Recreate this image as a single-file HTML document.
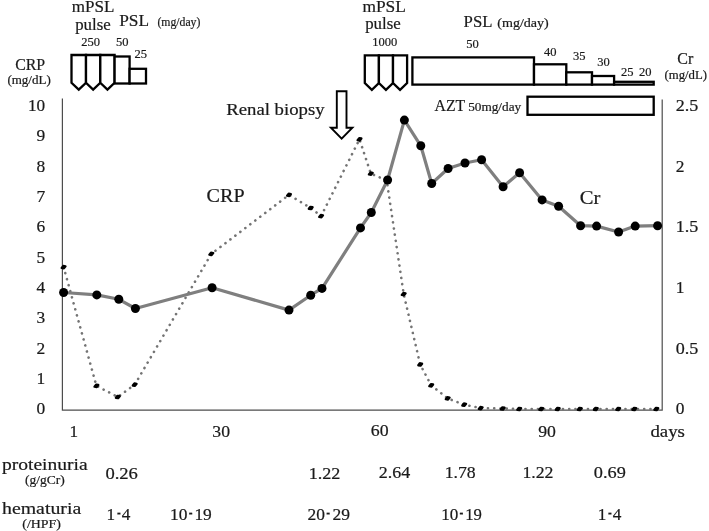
<!DOCTYPE html>
<html><head><meta charset="utf-8"><title>Clinical course</title>
<style>
html,body{margin:0;padding:0;background:#fff;}
body{width:709px;height:531px;overflow:hidden;}
svg{display:block;will-change:transform;transform:translateZ(0);}
text{font-family:"Liberation Serif","DejaVu Serif",serif;fill:#1a1a1a;stroke:#1a1a1a;stroke-width:0.2px;}
.c{font-size:16px;}
.s{font-size:12.5px;}
.u{font-size:11px;}
.ax{font-size:16px;fill:#222;}
</style></head><body>
<svg width="709" height="531" viewBox="0 0 709 531">
<rect width="709" height="531" fill="#fff"/>

<g stroke="#4d4d4d" stroke-width="1.2" fill="none"><path d="M62.4 98.5V410.1H662.2V99.5"/></g>
<g stroke="#000" stroke-width="2.3" fill="#fff" stroke-linejoin="miter">
<path d="M71.5 55.0H86V82.8L78.75 89.7L71.5 82.8Z"/>
<path d="M86 55.0H100.3V82.8L93.15 89.7L86 82.8Z"/>
<path d="M100.3 55.0H114.6V82.8L107.44999999999999 89.7L100.3 82.8Z"/>
<rect x="114.6" y="56.5" width="15" height="27"/>
<rect x="129.6" y="68.8" width="16.4" height="14.7"/>
<path d="M364.8 55.3H378.9V83L371.85 89.8L364.8 83Z"/>
<path d="M378.9 55.3H393V83L385.95 89.8L378.9 83Z"/>
<path d="M393 55.3H407.1V83L400.05 89.8L393 83Z"/>
<rect x="412.4" y="57.4" width="121.6" height="27.2"/>
<rect x="534" y="64.3" width="32.3" height="20.3"/>
<rect x="566.3" y="72.3" width="25.7" height="12.3"/>
<rect x="592" y="76.0" width="22.1" height="8.6"/>
<rect x="614.1" y="81.8" width="39.6" height="2.8"/>
<rect x="527.5" y="96.7" width="126.2" height="18.1"/>
</g>
<path d="M336.8 91.2H346.5V127.7H352.4L341.65 138.7L330.9 127.7H336.8Z" fill="#fff" stroke="#000" stroke-width="1.9"/>
<polyline points="63.6,267.1 96.4,385.8 117.8,397.0 134.7,384.7 211.3,253.9 289.0,194.9 310.7,208.0 321.1,216.1 359.5,139.3 370.8,173.6 386.7,180.4 403.7,294.1 420.2,364.5 431.2,385.3 447.7,398.4 464.2,404.7 480.7,408.1 502.7,408.5 519.2,409.0 541.2,409.0 557.7,409.0 579.7,409.0 595.8,409.0 618.2,409.0 634.3,409.0 656.3,409.0" fill="none" stroke="#747474" stroke-width="2.6" stroke-dasharray="0.1 6.15" stroke-linecap="round"/>
<path d="M61.7 267.9L63.3 265.9L65.5 266.3L63.9 268.3Z" fill="#000" stroke="#000" stroke-width="2.3" stroke-linejoin="round"/>
<path d="M94.5 386.6L96.1 384.6L98.3 385.0L96.7 387.0Z" fill="#000" stroke="#000" stroke-width="2.3" stroke-linejoin="round"/>
<path d="M115.9 397.8L117.5 395.8L119.7 396.2L118.1 398.2Z" fill="#000" stroke="#000" stroke-width="2.3" stroke-linejoin="round"/>
<path d="M132.8 385.5L134.4 383.5L136.6 383.9L135.0 385.9Z" fill="#000" stroke="#000" stroke-width="2.3" stroke-linejoin="round"/>
<path d="M209.4 254.7L211.0 252.7L213.2 253.1L211.6 255.1Z" fill="#000" stroke="#000" stroke-width="2.3" stroke-linejoin="round"/>
<path d="M287.1 195.7L288.7 193.7L290.9 194.1L289.3 196.1Z" fill="#000" stroke="#000" stroke-width="2.3" stroke-linejoin="round"/>
<path d="M308.8 208.8L310.4 206.8L312.6 207.2L311.0 209.2Z" fill="#000" stroke="#000" stroke-width="2.3" stroke-linejoin="round"/>
<path d="M319.2 216.9L320.8 214.9L323.0 215.3L321.4 217.3Z" fill="#000" stroke="#000" stroke-width="2.3" stroke-linejoin="round"/>
<path d="M357.6 140.1L359.2 138.1L361.4 138.5L359.8 140.5Z" fill="#000" stroke="#000" stroke-width="2.3" stroke-linejoin="round"/>
<path d="M368.9 174.4L370.5 172.4L372.7 172.8L371.1 174.8Z" fill="#000" stroke="#000" stroke-width="2.3" stroke-linejoin="round"/>
<path d="M384.8 181.2L386.4 179.2L388.6 179.6L387.0 181.6Z" fill="#000" stroke="#000" stroke-width="2.3" stroke-linejoin="round"/>
<path d="M401.8 294.9L403.4 292.9L405.6 293.3L404.0 295.3Z" fill="#000" stroke="#000" stroke-width="2.3" stroke-linejoin="round"/>
<path d="M418.3 365.3L419.9 363.3L422.1 363.7L420.5 365.7Z" fill="#000" stroke="#000" stroke-width="2.3" stroke-linejoin="round"/>
<path d="M429.3 386.1L430.9 384.1L433.1 384.5L431.5 386.5Z" fill="#000" stroke="#000" stroke-width="2.3" stroke-linejoin="round"/>
<path d="M445.8 399.2L447.4 397.2L449.6 397.6L448.0 399.6Z" fill="#000" stroke="#000" stroke-width="2.3" stroke-linejoin="round"/>
<path d="M462.3 405.5L463.9 403.5L466.1 403.9L464.5 405.9Z" fill="#000" stroke="#000" stroke-width="2.3" stroke-linejoin="round"/>
<path d="M478.8 408.9L480.4 406.9L482.6 407.3L481.0 409.3Z" fill="#000" stroke="#000" stroke-width="2.3" stroke-linejoin="round"/>
<path d="M500.8 409.3L502.4 407.3L504.6 407.7L503.0 409.7Z" fill="#000" stroke="#000" stroke-width="2.3" stroke-linejoin="round"/>
<path d="M517.3 409.8L518.9 407.8L521.1 408.2L519.5 410.2Z" fill="#000" stroke="#000" stroke-width="2.3" stroke-linejoin="round"/>
<path d="M539.3 409.8L540.9 407.8L543.1 408.2L541.5 410.2Z" fill="#000" stroke="#000" stroke-width="2.3" stroke-linejoin="round"/>
<path d="M555.8 409.8L557.4 407.8L559.6 408.2L558.0 410.2Z" fill="#000" stroke="#000" stroke-width="2.3" stroke-linejoin="round"/>
<path d="M577.8 409.8L579.4 407.8L581.6 408.2L580.0 410.2Z" fill="#000" stroke="#000" stroke-width="2.3" stroke-linejoin="round"/>
<path d="M593.9 409.8L595.5 407.8L597.7 408.2L596.1 410.2Z" fill="#000" stroke="#000" stroke-width="2.3" stroke-linejoin="round"/>
<path d="M616.3 409.8L617.9 407.8L620.1 408.2L618.5 410.2Z" fill="#000" stroke="#000" stroke-width="2.3" stroke-linejoin="round"/>
<path d="M632.4 409.8L634.0 407.8L636.2 408.2L634.6 410.2Z" fill="#000" stroke="#000" stroke-width="2.3" stroke-linejoin="round"/>
<path d="M654.4 409.8L656.0 407.8L658.2 408.2L656.6 410.2Z" fill="#000" stroke="#000" stroke-width="2.3" stroke-linejoin="round"/>
<polyline points="63.6,292.5 96.8,294.9 118.8,299.3 135.4,308.5 212.1,287.8 289.0,310.1 310.7,295.2 322.0,288.4 360.5,227.9 371.3,212.5 387.6,180.0 404.4,120.1 420.8,145.8 431.7,183.5 448.1,168.5 465.0,163.0 481.6,159.7 503.1,186.7 519.6,172.8 542.1,199.9 558.6,206.2 580.6,225.7 596.6,226.1 618.6,232.0 635.2,226.1 657.6,225.7" fill="none" stroke="#7f7f7f" stroke-width="3.2" stroke-linejoin="round" stroke-linecap="round"/>
<circle cx="63.6" cy="292.5" r="4.5" fill="#000"/>
<circle cx="96.8" cy="294.9" r="4.5" fill="#000"/>
<circle cx="118.8" cy="299.3" r="4.5" fill="#000"/>
<circle cx="135.4" cy="308.5" r="4.5" fill="#000"/>
<circle cx="212.1" cy="287.8" r="4.5" fill="#000"/>
<circle cx="289.0" cy="310.1" r="4.5" fill="#000"/>
<circle cx="310.7" cy="295.2" r="4.5" fill="#000"/>
<circle cx="322.0" cy="288.4" r="4.5" fill="#000"/>
<circle cx="360.5" cy="227.9" r="4.5" fill="#000"/>
<circle cx="371.3" cy="212.5" r="4.5" fill="#000"/>
<circle cx="387.6" cy="180.0" r="4.5" fill="#000"/>
<circle cx="404.4" cy="120.1" r="4.5" fill="#000"/>
<circle cx="420.8" cy="145.8" r="4.5" fill="#000"/>
<circle cx="431.7" cy="183.5" r="4.5" fill="#000"/>
<circle cx="448.1" cy="168.5" r="4.5" fill="#000"/>
<circle cx="465.0" cy="163.0" r="4.5" fill="#000"/>
<circle cx="481.6" cy="159.7" r="4.5" fill="#000"/>
<circle cx="503.1" cy="186.7" r="4.5" fill="#000"/>
<circle cx="519.6" cy="172.8" r="4.5" fill="#000"/>
<circle cx="542.1" cy="199.9" r="4.5" fill="#000"/>
<circle cx="558.6" cy="206.2" r="4.5" fill="#000"/>
<circle cx="580.6" cy="225.7" r="4.5" fill="#000"/>
<circle cx="596.6" cy="226.1" r="4.5" fill="#000"/>
<circle cx="618.6" cy="232.0" r="4.5" fill="#000"/>
<circle cx="635.2" cy="226.1" r="4.5" fill="#000"/>
<circle cx="657.6" cy="225.7" r="4.5" fill="#000"/>
<text x="36.5" y="414.3" style="font-size:16px" textLength="8.7" lengthAdjust="spacingAndGlyphs">0</text>
<text x="36.5" y="383.9" style="font-size:16px" textLength="8.7" lengthAdjust="spacingAndGlyphs">1</text>
<text x="36.5" y="353.6" style="font-size:16px" textLength="8.7" lengthAdjust="spacingAndGlyphs">2</text>
<text x="36.5" y="323.2" style="font-size:16px" textLength="8.7" lengthAdjust="spacingAndGlyphs">3</text>
<text x="36.5" y="292.9" style="font-size:16px" textLength="8.7" lengthAdjust="spacingAndGlyphs">4</text>
<text x="36.5" y="262.6" style="font-size:16px" textLength="8.7" lengthAdjust="spacingAndGlyphs">5</text>
<text x="36.5" y="232.2" style="font-size:16px" textLength="8.7" lengthAdjust="spacingAndGlyphs">6</text>
<text x="36.5" y="201.8" style="font-size:16px" textLength="8.7" lengthAdjust="spacingAndGlyphs">7</text>
<text x="36.5" y="171.5" style="font-size:16px" textLength="8.7" lengthAdjust="spacingAndGlyphs">8</text>
<text x="36.5" y="141.1" style="font-size:16px" textLength="8.7" lengthAdjust="spacingAndGlyphs">9</text>
<text x="28.000000000000004" y="110.8" style="font-size:16px" textLength="17.2" lengthAdjust="spacingAndGlyphs">10</text>
<text x="675.7" y="414.3" style="font-size:16px" textLength="8.7" lengthAdjust="spacingAndGlyphs">0</text>
<text x="675.7" y="353.7" style="font-size:16px" textLength="22.6" lengthAdjust="spacingAndGlyphs">0.5</text>
<text x="675.7" y="293.0" style="font-size:16px" textLength="8.7" lengthAdjust="spacingAndGlyphs">1</text>
<text x="675.7" y="232.4" style="font-size:16px" textLength="22.6" lengthAdjust="spacingAndGlyphs">1.5</text>
<text x="675.7" y="171.7" style="font-size:16px" textLength="8.7" lengthAdjust="spacingAndGlyphs">2</text>
<text x="675.7" y="111.0" style="font-size:16px" textLength="22.6" lengthAdjust="spacingAndGlyphs">2.5</text>
<text x="69.6" y="437.3" style="font-size:16px" textLength="8.6" lengthAdjust="spacingAndGlyphs">1</text>
<text x="212.3" y="436.6" style="font-size:16px" textLength="17.7" lengthAdjust="spacingAndGlyphs">30</text>
<text x="370.8" y="436.2" style="font-size:16px" textLength="17.8" lengthAdjust="spacingAndGlyphs">60</text>
<text x="538.2" y="437.1" style="font-size:16px" textLength="17.7" lengthAdjust="spacingAndGlyphs">90</text>
<text x="650.4" y="437" style="font-size:16px" textLength="34.5" lengthAdjust="spacingAndGlyphs">days</text>
<text class="c" x="71.8" y="11.8" textLength="42.6" lengthAdjust="spacingAndGlyphs">mPSL</text>
<text class="c" x="75.2" y="29.5" textLength="35.5" lengthAdjust="spacingAndGlyphs">pulse</text>
<text class="c" x="119.2" y="26.4" textLength="29.8" lengthAdjust="spacingAndGlyphs">PSL</text>
<text x="157.4" y="26.3" style="font-size:12.6px" textLength="43.0" lengthAdjust="spacingAndGlyphs">(mg/day)</text>
<text class="s" x="81.2" y="46">250</text>
<text class="s" x="116.1" y="46">50</text>
<text class="s" x="134.5" y="58">25</text>
<text class="c" x="362.4" y="11.5" textLength="43.4" lengthAdjust="spacingAndGlyphs">mPSL</text>
<text class="c" x="365.2" y="29.3" textLength="35.5" lengthAdjust="spacingAndGlyphs">pulse</text>
<text class="c" x="463.6" y="27.1" textLength="28.8" lengthAdjust="spacingAndGlyphs">PSL</text>
<text class="s" x="497.3" y="26.5" textLength="51.5" lengthAdjust="spacingAndGlyphs">(mg/day)</text>
<text class="s" x="372.2" y="45.8">1000</text>
<text class="s" x="466.2" y="47.5">50</text>
<text class="s" x="544" y="55.6">40</text>
<text class="s" x="572.9" y="60.3">35</text>
<text class="s" x="597.3" y="65.7">30</text>
<text class="s" x="621" y="75.5">25</text>
<text class="s" x="639.1" y="75.5">20</text>
<text class="c" x="15.2" y="70" textLength="30" lengthAdjust="spacingAndGlyphs">CRP</text>
<text style="font-size:11.8px" x="7.4" y="84.3" textLength="43.4" lengthAdjust="spacingAndGlyphs">(mg/dL)</text>
<text class="c" x="677.3" y="64">Cr</text>
<text style="font-size:11.8px" x="664.5" y="78.8" textLength="42.5" lengthAdjust="spacingAndGlyphs">(mg/dL)</text>
<text class="c" x="434.6" y="111.2" textLength="30.6" lengthAdjust="spacingAndGlyphs">AZT</text>
<text class="s" x="468.2" y="111.2" textLength="53" lengthAdjust="spacingAndGlyphs">50mg/day</text>
<text x="226.2" y="114.8" style="font-size:15.8px" textLength="98.4" lengthAdjust="spacingAndGlyphs">Renal biopsy</text>
<text x="206.6" y="201.6" style="font-size:18.4px" textLength="38.0" lengthAdjust="spacingAndGlyphs">CRP</text>
<text x="579.7" y="203.6" style="font-size:18.4px" textLength="20.6" lengthAdjust="spacingAndGlyphs">Cr</text>
<text x="2" y="470.3" style="font-size:16.5px" textLength="85.6" lengthAdjust="spacingAndGlyphs">proteinuria</text>
<text x="24.9" y="484.1" style="font-size:13px" textLength="39.8" lengthAdjust="spacingAndGlyphs">(g/gCr)</text>
<text x="2" y="513.5" style="font-size:16.5px" textLength="79.2" lengthAdjust="spacingAndGlyphs">hematuria</text>
<text x="22.3" y="527.6" style="font-size:13px" textLength="38.6" lengthAdjust="spacingAndGlyphs">(/HPF)</text>
<text x="105.4" y="478.8" style="font-size:16px" textLength="32.5" lengthAdjust="spacingAndGlyphs">0.26</text>
<text x="308.7" y="478.6" style="font-size:16px" textLength="31.7" lengthAdjust="spacingAndGlyphs">1.22</text>
<text x="378.7" y="477.7" style="font-size:16px" textLength="31.5" lengthAdjust="spacingAndGlyphs">2.64</text>
<text x="444.7" y="478.2" style="font-size:16px" textLength="31.0" lengthAdjust="spacingAndGlyphs">1.78</text>
<text x="522.4" y="478.2" style="font-size:16px" textLength="31.1" lengthAdjust="spacingAndGlyphs">1.22</text>
<text x="593.8" y="478.2" style="font-size:16px" textLength="32.0" lengthAdjust="spacingAndGlyphs">0.69</text>
<text x="106.6" y="519.8" style="font-size:16px" textLength="8.6" lengthAdjust="spacingAndGlyphs">1</text>
<text x="117.1" y="518.2" style="font-size:16px;font-weight:bold" textLength="3.8" lengthAdjust="spacingAndGlyphs">-</text>
<text x="121.7" y="519.8" style="font-size:16px" textLength="8.6" lengthAdjust="spacingAndGlyphs">4</text>
<text x="170" y="519.9" style="font-size:16px" textLength="17.4" lengthAdjust="spacingAndGlyphs">10</text>
<text x="188.7" y="518.3" style="font-size:16px;font-weight:bold" textLength="3.8" lengthAdjust="spacingAndGlyphs">-</text>
<text x="194.4" y="519.9" style="font-size:16px" textLength="17.4" lengthAdjust="spacingAndGlyphs">19</text>
<text x="307.6" y="519.9" style="font-size:16px" textLength="17.4" lengthAdjust="spacingAndGlyphs">20</text>
<text x="326.3" y="518.3" style="font-size:16px;font-weight:bold" textLength="3.8" lengthAdjust="spacingAndGlyphs">-</text>
<text x="332.4" y="519.9" style="font-size:16px" textLength="17.5" lengthAdjust="spacingAndGlyphs">29</text>
<text x="441.2" y="519.6" style="font-size:16px" textLength="17.1" lengthAdjust="spacingAndGlyphs">10</text>
<text x="459.5" y="518.0" style="font-size:16px;font-weight:bold" textLength="3.8" lengthAdjust="spacingAndGlyphs">-</text>
<text x="465.2" y="519.6" style="font-size:16px" textLength="16.7" lengthAdjust="spacingAndGlyphs">19</text>
<text x="597.7" y="519.6" style="font-size:16px" textLength="8.6" lengthAdjust="spacingAndGlyphs">1</text>
<text x="608.1" y="518.0" style="font-size:16px;font-weight:bold" textLength="3.8" lengthAdjust="spacingAndGlyphs">-</text>
<text x="612.7" y="519.6" style="font-size:16px" textLength="8.6" lengthAdjust="spacingAndGlyphs">4</text>
</svg></body></html>
